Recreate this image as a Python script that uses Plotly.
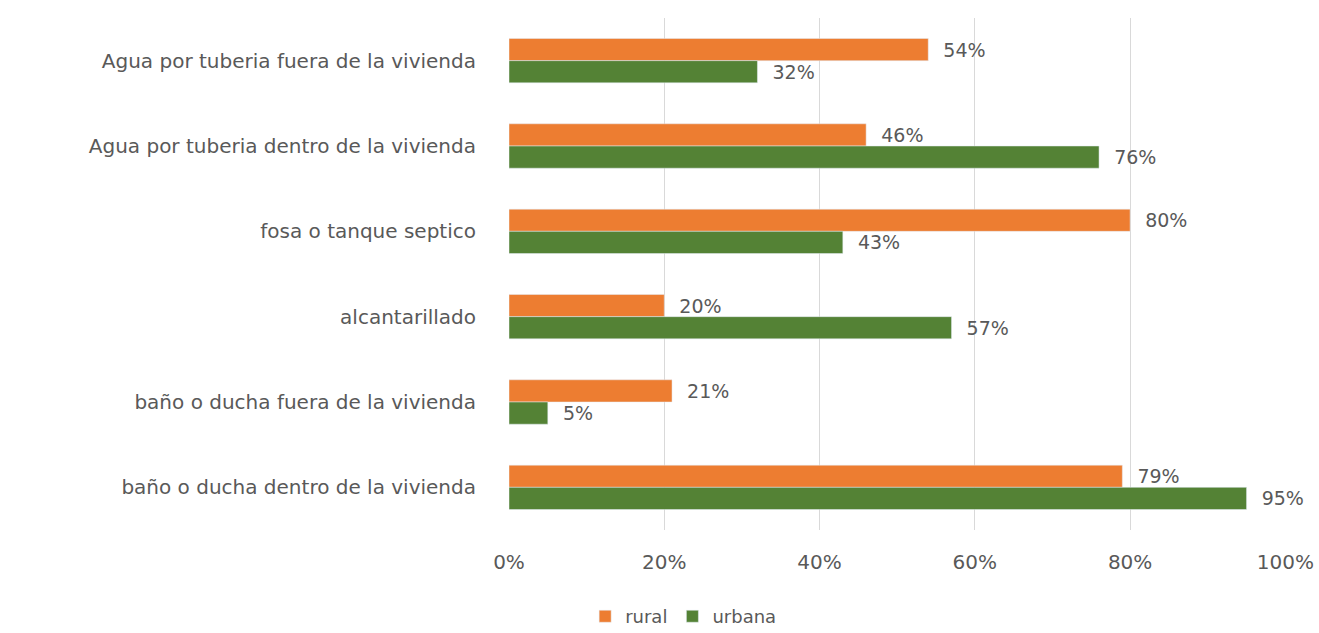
import plotly.graph_objects as go

categories = [
    "Agua por tuberia fuera de la vivienda",
    "Agua por tuberia dentro de la vivienda",
    "fosa o tanque septico",
    "alcantarillado",
    "baño o ducha fuera de la vivienda",
    "baño o ducha dentro de la vivienda",
]
rural = [0.54, 0.46, 0.80, 0.20, 0.21, 0.79]
urbana = [0.32, 0.76, 0.43, 0.57, 0.05, 0.95]
x_ticks = [0, 0.2, 0.4, 0.6, 0.8, 1.0]
x_tick_labels = ["0%", "20%", "40%", "60%", "80%", "100%"]

grey = "#595959"
font_family = "DejaVu Sans, sans-serif"

fig = go.Figure()
fig.add_trace(go.Bar(
    y=categories, x=rural, name="rural", orientation="h",
    marker=dict(color="#ED7D31"),
    text=[f"  {round(v*100)}%" for v in rural], textposition="outside",
    textfont=dict(color=grey, size=19), cliponaxis=False,
))
fig.add_trace(go.Bar(
    y=categories, x=urbana, name="urbana", orientation="h",
    marker=dict(color="#548235"),
    text=[f"  {round(v*100)}%" for v in urbana], textposition="outside",
    textfont=dict(color=grey, size=19), cliponaxis=False,
))

fig.update_layout(
    width=1319, height=633,
    margin=dict(l=509, r=33, t=18, b=103, autoexpand=False),
    barmode="group", bargap=0.48, bargroupgap=0,
    paper_bgcolor="white", plot_bgcolor="white",
    font=dict(family=font_family, color=grey, size=19),
    xaxis=dict(range=[0, 1.0008], tickvals=x_ticks, ticktext=x_tick_labels,
               showgrid=True, gridcolor="#d9d9d9", gridwidth=1,
               zeroline=False, showline=False, ticks="",
               ticklabelstandoff=18, ticklabeloverflow="allow",
               automargin=False,
               tickfont=dict(size=20, color=grey)),
    yaxis=dict(autorange="reversed", showgrid=False, ticks="",
               ticklabelstandoff=32, automargin=False,
               tickfont=dict(size=20, color=grey)),
    legend=dict(orientation="h", x=0.098, xanchor="left",
                yref="container", y=0.026, yanchor="middle",
                font=dict(size=18, color=grey), traceorder="normal",
                itemwidth=30, tracegroupgap=0),
    showlegend=True,
)

fig.write_html(
    "out.html",
    config={"displayModeBar": False},
    post_script="document.body.style.margin='0';document.body.style.overflow='hidden';",
)
